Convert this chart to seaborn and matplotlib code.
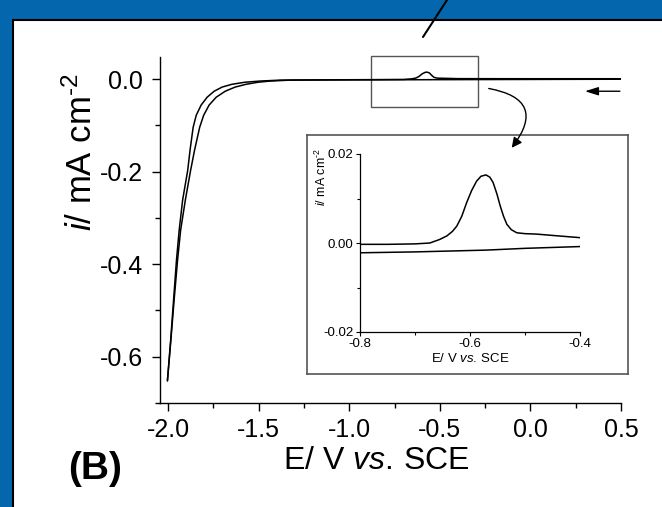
'''
Cyclic voltammogram with zoomed inset, panel (B)
'''
import matplotlib
matplotlib.use('Agg')
import matplotlib.pyplot as plt
import seaborn as sns
from matplotlib.patches import Rectangle, FancyArrowPatch
from matplotlib.lines import Line2D
from matplotlib.ticker import MultipleLocator, FormatStrFormatter

# cathodic sweep 0.5 V -> -2.0 V
e_fwd = [0.50, 0.0, -0.5, -1.0, -1.2, -1.327, -1.437, -1.503, -1.570, -1.630, -1.685,
         -1.735, -1.774, -1.804, -1.826, -1.854, -1.876, -1.905, -1.931, -1.948, -1.967,
         -1.985, -2.004]
i_fwd = [0.0, -0.0005, -0.001, -0.0015, -0.0018, -0.002, -0.004, -0.0065, -0.011, -0.017, -0.026,
         -0.039, -0.056, -0.078, -0.104, -0.153, -0.197, -0.261, -0.326, -0.391, -0.477,
         -0.564, -0.652]

# return sweep -2.0 V -> 0.5 V (with the stripping peak)
e_rev = [-2.004, -1.986, -1.970, -1.954, -1.939, -1.920, -1.892, -1.879, -1.862, -1.845,
         -1.818, -1.785, -1.746, -1.702, -1.648, -1.575, -1.492, -1.382, -1.2, -0.9, -0.7,
         -0.655, -0.632, -0.615, -0.597, -0.58, -0.571, -0.558, -0.545, -0.533, -0.515,
         -0.479, -0.4, 0.0, 0.5]
i_rev = [-0.652, -0.564, -0.477, -0.391, -0.326, -0.261, -0.197, -0.153, -0.104, -0.078,
         -0.056, -0.039, -0.026, -0.017, -0.011, -0.0065, -0.004, -0.002, -0.0015, -0.001, -0.0005,
         0.0008, 0.0026, 0.006, 0.0118, 0.015, 0.0153, 0.0136, 0.0083, 0.0042, 0.0023,
         0.002, 0.0012, 0.001, 0.001]

# inset, -0.8 V to -0.4 V
e_in_up = [-0.8, -0.75, -0.70, -0.673, -0.655, -0.642, -0.632, -0.624, -0.615, -0.606, -0.597,
           -0.588, -0.58, -0.571, -0.564, -0.558, -0.551, -0.545, -0.539, -0.533, -0.525,
           -0.515, -0.50, -0.479, -0.44, -0.4]
i_in_up = [-0.0003, -0.0003, -0.0002, 0.0, 0.0008, 0.0016, 0.0026, 0.0038, 0.006, 0.0091, 0.0118,
           0.0139, 0.0150, 0.0153, 0.0148, 0.0136, 0.011, 0.0083, 0.006, 0.0042, 0.003,
           0.0023, 0.0021, 0.0020, 0.0016, 0.0012]
e_in_low = [-0.8, -0.7, -0.571, -0.5, -0.4]
i_in_low = [-0.0022, -0.002, -0.0016, -0.0012, -0.0008]

BLUE = '#0467ad'
GREY = '#555555'
SUP = '$^{\u20102}$'
XLAB = '$\\mathrm{E/\\ V}\\ \\mathit{vs.}\\,\\mathrm{SCE}$'

sns.set_style('ticks')
plt.rcParams['font.family'] = ['Liberation Sans', 'DejaVu Sans']
plt.rcParams['mathtext.fontset'] = 'custom'
plt.rcParams['mathtext.rm'] = 'Liberation Sans'
plt.rcParams['mathtext.it'] = 'Liberation Sans:italic'
plt.rcParams['axes.unicode_minus'] = False
plt.rcParams['text.color'] = 'black'
plt.rcParams['axes.labelcolor'] = 'black'
for k in ('xtick', 'ytick'):
    plt.rcParams[k + '.direction'] = 'out'
    plt.rcParams[k + '.color'] = 'black'
    plt.rcParams[k + '.labelcolor'] = 'black'

fig = plt.figure(figsize=(6.62, 5.07), dpi=100)
fig.patch.set_facecolor(BLUE)

# white panel with black top/left border
W, H = 662.0, 507.0
panel = Rectangle((13 / W, -0.1), 1.2, (H - 20) / H + 0.1, transform=fig.transFigure,
                  facecolor='white', edgecolor='black', linewidth=1.5, zorder=-1)
fig.patches.append(panel)

# main axes
ax = fig.add_axes([160 / W, (H - 403) / H, 461 / W, 346 / H])
ax.set_facecolor('none')
sns.lineplot(x=e_fwd, y=i_fwd, sort=False, estimator=None, color='black', lw=1.1, ax=ax)
sns.lineplot(x=e_rev, y=i_rev, sort=False, estimator=None, color='black', lw=1.1, ax=ax)
ax.set_xlim(-2.045, 0.5)
ax.set_ylim(-0.70, 0.048)
ax.xaxis.set_major_locator(MultipleLocator(0.5))
ax.xaxis.set_minor_locator(MultipleLocator(0.25))
ax.yaxis.set_major_locator(MultipleLocator(0.2))
ax.yaxis.set_minor_locator(MultipleLocator(0.1))
ax.xaxis.set_major_formatter(FormatStrFormatter('%.1f'))
ax.yaxis.set_major_formatter(FormatStrFormatter('%.1f'))
ax.tick_params(which='major', length=6, width=1, labelsize=18, pad=6)
ax.tick_params(which='minor', length=3.5, width=1)
ax.tick_params(axis='x', which='major', pad=5)
for s in ('top', 'right'):
    ax.spines[s].set_visible(False)
for s in ('left', 'bottom'):
    ax.spines[s].set_linewidth(1)
    ax.spines[s].set_color('black')
fig.text(376 / W, (H - 461) / H, XLAB, fontsize=23, ha='center', va='center')
ax.text(-0.171, 0.725, '$\\mathit{i}$/ mA cm' + SUP, transform=ax.transAxes,
        rotation=90, ha='center', va='center', fontsize=25)

# zoom box and arrows on the main axes
ax.add_patch(Rectangle((-0.88, -0.060), 0.59, 0.1095, fill=False, edgecolor=GREY,
                       linewidth=1, clip_on=False))
ax.annotate('', xy=(0.301, -0.026), xytext=(0.494, -0.026),
            arrowprops=dict(arrowstyle='-|>,head_length=0.8,head_width=0.25',
                            color='black', lw=1, shrinkA=0, shrinkB=0),
            annotation_clip=False)

# inset frame
frame = fig.add_axes([307 / W, (H - 374) / H, 321 / W, 239 / H])
frame.set_facecolor('white')
frame.set_xticks([])
frame.set_yticks([])
for s in frame.spines.values():
    s.set_color(GREY)
    s.set_linewidth(1.2)

# inset axes
ins = fig.add_axes([360 / W, (H - 332) / H, 220 / W, 178 / H])
ins.set_facecolor('none')
sns.lineplot(x=e_in_up, y=i_in_up, sort=False, estimator=None, color='black', lw=1.1, ax=ins)
sns.lineplot(x=e_in_low, y=i_in_low, sort=False, estimator=None, color='black', lw=1.1, ax=ins)
ins.set_xlim(-0.8, -0.4)
ins.set_ylim(-0.02, 0.02)
ins.xaxis.set_major_locator(MultipleLocator(0.2))
ins.xaxis.set_minor_locator(MultipleLocator(0.1))
ins.yaxis.set_major_locator(MultipleLocator(0.02))
ins.yaxis.set_minor_locator(MultipleLocator(0.01))
ins.xaxis.set_major_formatter(FormatStrFormatter('%.1f'))
ins.yaxis.set_major_formatter(FormatStrFormatter('%.2f'))
ins.tick_params(which='major', length=3, width=0.8, labelsize=9.5, pad=1.5)
ins.tick_params(which='minor', length=2, width=0.8)
for s in ('top', 'right'):
    ins.spines[s].set_visible(False)
for s in ('left', 'bottom'):
    ins.spines[s].set_linewidth(0.9)
    ins.spines[s].set_color('black')
ins.set_xlabel(XLAB, fontsize=9.5, labelpad=1)
ins.text(-0.175, 0.87, '$\\mathit{i}$/ mA cm' + SUP, transform=ins.transAxes,
         rotation=90, ha='center', va='center', fontsize=9)

# curved arrow from zoom box to inset
fig.patches.append(FancyArrowPatch(
    (486 / W, (H - 88) / H), (510 / W, (H - 150) / H), transform=fig.transFigure,
    connectionstyle='arc3,rad=-0.85', arrowstyle='-|>,head_length=6,head_width=3',
    color='black', lw=1, zorder=5))

# slanted line across the top border
fig.lines.append(Line2D([447 / W, 423 / W], [1.0, (H - 37) / H], transform=fig.transFigure,
                        color='black', lw=1.5, zorder=5))

fig.text(95 / W, (H - 469) / H, '(B)', fontsize=28, fontweight='bold',
         ha='center', va='center')

plt.savefig('out.png', dpi=100, facecolor=fig.get_facecolor())
